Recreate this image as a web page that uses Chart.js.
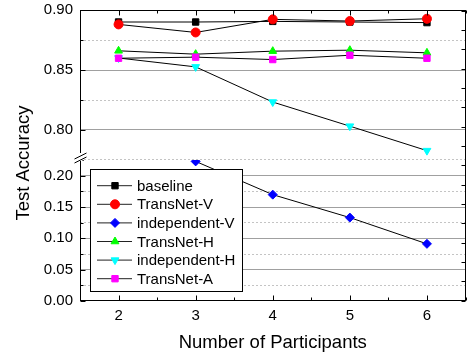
<!DOCTYPE html>
<html>
<head>
<meta charset="utf-8">
<script src="https://cdn.jsdelivr.net/npm/chart.js@4.4.1/dist/chart.umd.min.js"></script>
<style>
  html, body { margin: 0; padding: 0; background: #fff; }
</style>
</head>
<body>
<canvas id="myChart" width="471" height="358"></canvas>
<script>
// data
var participants = [2, 3, 4, 5, 6];
var baseline     = [0.8900, 0.8900, 0.8905, 0.8900, 0.8895];
var transNetV    = [0.8880, 0.8813, 0.8922, 0.8908, 0.8927];
var independentV = [null,   0.2228, 0.1697, 0.1331, 0.0912];
var transNetH    = [0.8660, 0.8632, 0.8657, 0.8665, 0.8643];
var independentH = [0.8600, 0.8526, 0.8233, 0.8032, 0.7828];
var transNetA    = [0.8598, 0.8607, 0.8587, 0.8623, 0.8598];

var seriesNames  = ['baseline', 'TransNet-V', 'independent-V', 'TransNet-H', 'independent-H', 'TransNet-A'];
var seriesValues = [baseline, transNetV, independentV, transNetH, independentH, transNetA];
var seriesColors = ['#000000', '#ff0000', '#0000ff', '#00ff00', '#00ffff', '#ff00ff'];
var seriesShapes = ['rect', 'circle', 'rectRot', 'triangle', 'triangle', 'rect'];
var seriesRotate = [0, 0, 0, 0, 180, 0];
var seriesAxis   = ['yTop', 'yTop', 'yBottom', 'yTop', 'yTop', 'yTop'];

var FONT = "'Liberation Sans', Arial, Helvetica, sans-serif";
Chart.defaults.font.family = FONT;
Chart.defaults.color = '#000';

var datasets = seriesNames.map(function(name, i) {
  return {
    label: name,
    data: participants.map(function(p, j) { return { x: p, y: seriesValues[i][j] }; })
                      .filter(function(d) { return d.y !== null; }),
    yAxisID: seriesAxis[i],
    borderColor: '#000',
    borderWidth: 1,
    pointStyle: seriesShapes[i],
    pointRotation: seriesRotate[i],
    pointRadius: 4.5,
    pointBorderWidth: 1,
    pointBackgroundColor: seriesColors[i],
    pointBorderColor: seriesColors[i],
    order: seriesNames.length - i, // later series on top
    tension: 0
  };
});

function isMajor(v) { return Math.round(v * 40) % 2 === 0; }
function gridColor(ctx) {
  var v = ctx.tick.value;
  if (Math.abs(v - 0.9) < 1e-6 || Math.abs(v) < 1e-6) return 'rgba(0,0,0,0)';
  return isMajor(v) ? '#a0a0a0' : '#c4c4c4';
}
function gridDash(ctx) {
  return isMajor(ctx.tick.value) ? [] : [2, 2];
}
function yLabel(v) {
  var k = Math.round(v * 40);
  return k % 2 === 0 ? (k / 40).toFixed(2) : '';
}
function fitY(s) {
  s.width = 42;
  s.paddingTop = 0;
  s.paddingBottom = 0;
}

// frame, inward ticks, axis break, y title and legend box
var decorPlugin = {
  id: 'decor',
  afterDraw: function(chart) {
    var ctx = chart.ctx, a = chart.chartArea;
    var L = Math.round(a.left) + 0.5, R = Math.round(a.right) - 0.5;
    var T = Math.round(a.top) + 0.5, B = Math.round(a.bottom) - 0.5;
    var xs = chart.scales.x, yT = chart.scales.yTop, yB = chart.scales.yBottom;
    ctx.save();
    ctx.strokeStyle = '#000';
    ctx.lineWidth = 1;
    ctx.beginPath();
    // x ticks top and bottom
    for (var v = 1.5; v <= 6.5001; v += 0.5) {
      var px = Math.round(xs.getPixelForValue(v)) + 0.5;
      var len = (v % 1 === 0) ? 5 : 3;
      ctx.moveTo(px, B); ctx.lineTo(px, B - len);
      ctx.moveTo(px, T); ctx.lineTo(px, T + len);
    }
    // left ticks
    [yT, yB].forEach(function(s) {
      s.ticks.forEach(function(t) {
        var py = Math.round(s.getPixelForValue(t.value)) + 0.5;
        var len = isMajor(t.value) ? 5 : 3;
        ctx.moveTo(L, py); ctx.lineTo(L + len, py);
      });
    });
    // right ticks
    for (var i = 0; i <= 15; i++) {
      var ry = Math.round(T + i * (B - T) / 15) + 0.5;
      ctx.moveTo(R, ry); ctx.lineTo(R - 4, ry);
    }
    ctx.stroke();
    ctx.strokeRect(L, T, R - L, B - T);

    // axis break
    var by = Math.round(yT.bottom);
    ctx.fillStyle = '#fff';
    ctx.fillRect(L - 2, by - 7, 4, 8);
    ctx.beginPath();
    ctx.moveTo(L - 6, by - 1); ctx.lineTo(L + 6, by - 7);
    ctx.moveTo(L - 6, by + 3); ctx.lineTo(L + 6, by - 3);
    ctx.stroke();

    // y title
    ctx.fillStyle = '#000';
    ctx.font = '18.5px ' + FONT;
    ctx.textAlign = 'center';
    ctx.textBaseline = 'middle';
    ctx.translate(24, 163);
    ctx.rotate(-Math.PI / 2);
    ctx.fillText('Test Accuracy', 0, 0);
    ctx.setTransform(1, 0, 0, 1, 0, 0);

    // legend
    var lx = 90.5, ly = 169.5, lw = 152, lh = 122;
    ctx.fillStyle = '#fff';
    ctx.fillRect(lx, ly, lw, lh);
    ctx.strokeRect(lx, ly, lw, lh);
    ctx.font = '15px ' + FONT;
    ctx.textAlign = 'left';
    chart.data.datasets.forEach(function(ds, k) {
      var cy = 185.7 + k * 18.6;
      ctx.strokeStyle = '#222';
      ctx.beginPath();
      ctx.moveTo(97, cy); ctx.lineTo(132, cy);
      ctx.stroke();
      ctx.fillStyle = ds.pointBackgroundColor;
      ctx.strokeStyle = ds.pointBorderColor;
      Chart.helpers.drawPoint(ctx, {
        pointStyle: ds.pointStyle, rotation: ds.pointRotation,
        radius: 4.5, borderWidth: 1
      }, 115, cy);
      ctx.fillStyle = '#000';
      ctx.fillText(ds.label, 137, cy + 1);
    });
    ctx.restore();
  }
};

var ctx = document.getElementById('myChart').getContext('2d');
var myChart = new Chart(ctx, {
  type: 'line',
  data: { datasets: datasets },
  options: {
    responsive: false,
    animation: false,
    layout: { padding: { top: 10, right: 1, left: 38, bottom: 0 } },
    plugins: {
      legend: { display: false },
      tooltip: { enabled: false }
    },
    scales: {
      x: {
        type: 'linear',
        min: 1.5,
        max: 6.5,
        grid: { display: false, drawTicks: false },
        border: { display: false },
        ticks: {
          stepSize: 0.5,
          autoSkip: false,
          maxRotation: 0,
          padding: 6,
          font: { size: 15 },
          callback: function(v) { return v % 1 === 0 ? String(v) : ''; }
        },
        title: {
          display: true,
          text: 'Number of Participants',
          font: { size: 18.5 },
          padding: { top: 0, bottom: 4 }
        },
        afterFit: function(s) { s.height = 57; s.paddingLeft = 0; s.paddingRight = 0; }
      },
      yTop: {
        type: 'linear',
        position: 'left',
        stack: 'acc',
        stackWeight: 150,
        weight: 2,
        min: 0.775,
        max: 0.90,
        grid: { color: gridColor, drawTicks: false },
        border: { display: false, dash: gridDash },
        ticks: { stepSize: 0.025, autoSkip: false, padding: 7, font: { size: 15 }, callback: yLabel },
        afterFit: fitY
      },
      yBottom: {
        type: 'linear',
        position: 'left',
        stack: 'acc',
        stackWeight: 141,
        weight: 1,
        min: 0,
        max: 0.225,
        grid: { color: gridColor, drawTicks: false },
        border: { display: false, dash: gridDash },
        ticks: { stepSize: 0.025, autoSkip: false, padding: 7, font: { size: 15 }, callback: yLabel },
        afterFit: fitY
      }
    }
  },
  plugins: [decorPlugin]
});
</script>
</body>
</html>
